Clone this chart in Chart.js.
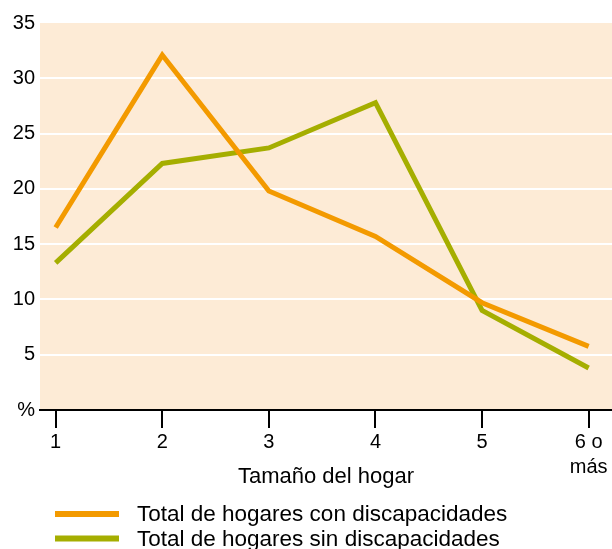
<!DOCTYPE html>
<html>
<head>
<meta charset="utf-8">
<script src="https://cdn.jsdelivr.net/npm/chart.js@4"></script>
<style>
  html, body { margin: 0; padding: 0; background: #ffffff; }
  #wrap { width: 612px; height: 549px; position: relative; }
</style>
</head>
<body>
<div id="wrap"><canvas id="chart"></canvas></div>
<script>
// tamaño del hogar (1 .. 6 o más)
const householdSizes = [1, 2, 3, 4, 5, 6];
const sizeLabels = ['1', '2', '3', '4', '5', ['6 o', 'más']];
const yTickLabels = ['%', '5', '10', '15', '20', '25', '30', '35'];

const seriesNames = ['Total de hogares con discapacidades', 'Total de hogares sin discapacidades'];
const withDisability = [16.5, 32.1, 19.8, 15.7, 9.7, 5.75];
const withoutDisability = [13.3, 22.3, 23.7, 27.8, 9.0, 3.8];
const seriesColors = ['#f39a00', '#a5ae00'];

const FONT = '"Liberation Sans", Arial, sans-serif';

function points(values) {
  return householdSizes.map((x, i) => ({ x: x, y: values[i] }));
}

// fondo crema del área de trazado
const plotBackground = {
  id: 'plotBackground',
  beforeDraw(chart) {
    const a = chart.chartArea;
    const ctx = chart.ctx;
    ctx.save();
    ctx.fillStyle = '#fdebd6';
    ctx.fillRect(a.left, a.top, a.right - a.left, a.bottom - a.top);
    ctx.restore();
  }
};

// leyenda dibujada a mano, una fila por serie
const lineLegend = {
  id: 'lineLegend',
  afterDraw(chart) {
    const ctx = chart.ctx;
    const base = chart.chartArea.bottom;
    ctx.save();
    chart.data.datasets.forEach((ds, i) => {
      const y = base + 104 + i * 24.6;
      ctx.strokeStyle = ds.borderColor;
      ctx.lineWidth = 6;
      ctx.lineCap = 'butt';
      ctx.beginPath();
      ctx.moveTo(55, y);
      ctx.lineTo(119, y);
      ctx.stroke();
      ctx.fillStyle = '#000';
      ctx.font = '22.5px ' + FONT;
      ctx.textBaseline = 'alphabetic';
      ctx.textAlign = 'left';
      ctx.fillText(ds.label, 137, y + 7);
    });
    ctx.restore();
  }
};

new Chart(document.getElementById('chart'), {
  type: 'line',
  data: {
    datasets: [
      {
        label: seriesNames[0],
        data: points(withDisability),
        borderColor: seriesColors[0],
        borderWidth: 5,
        pointRadius: 0,
        tension: 0,
        borderJoinStyle: 'miter',
        fill: false
      },
      {
        label: seriesNames[1],
        data: points(withoutDisability),
        borderColor: seriesColors[1],
        borderWidth: 5,
        pointRadius: 0,
        tension: 0,
        borderJoinStyle: 'miter',
        fill: false
      }
    ]
  },
  options: {
    responsive: true,
    maintainAspectRatio: false,
    animation: false,
    layout: { padding: { top: 23, right: 0, left: 0, bottom: 0 } },
    plugins: {
      legend: { display: false },
      tooltip: { enabled: false }
    },
    scales: {
      x: {
        type: 'linear',
        min: 0.853,
        max: 6.219,
        afterBuildTicks: (scale) => {
          scale.ticks = householdSizes.map(v => ({ value: v }));
        },
        afterFit: (scale) => { scale.height = 139; },
        ticks: {
          color: '#000',
          font: { family: FONT, size: 20, lineHeight: 1.25 },
          padding: 2,
          maxRotation: 0,
          autoSkip: false,
          callback: (v) => sizeLabels[householdSizes.indexOf(v)]
        },
        grid: {
          drawOnChartArea: false,
          drawTicks: true,
          tickLength: 18,
          color: '#000',
          lineWidth: 2
        },
        border: { display: true, color: '#000', width: 2 },
        title: {
          display: true,
          text: 'Tamaño del hogar',
          color: '#000',
          font: { family: FONT, size: 22 },
          padding: { top: 0, bottom: 59 }
        }
      },
      y: {
        min: 0,
        max: 35,
        afterFit: (scale) => { scale.width = 40; },
        ticks: {
          stepSize: 5,
          color: '#000',
          padding: 5,
          font: { family: FONT, size: 20 },
          callback: (v) => yTickLabels[v / 5]
        },
        grid: {
          drawTicks: false,
          lineWidth: 2,
          color: (c) => (c.tick.value > 0 && c.tick.value < 35) ? '#ffffff' : 'rgba(0,0,0,0)'
        },
        border: { display: false }
      }
    }
  },
  plugins: [plotBackground, lineLegend]
});
</script>
</body>
</html>
